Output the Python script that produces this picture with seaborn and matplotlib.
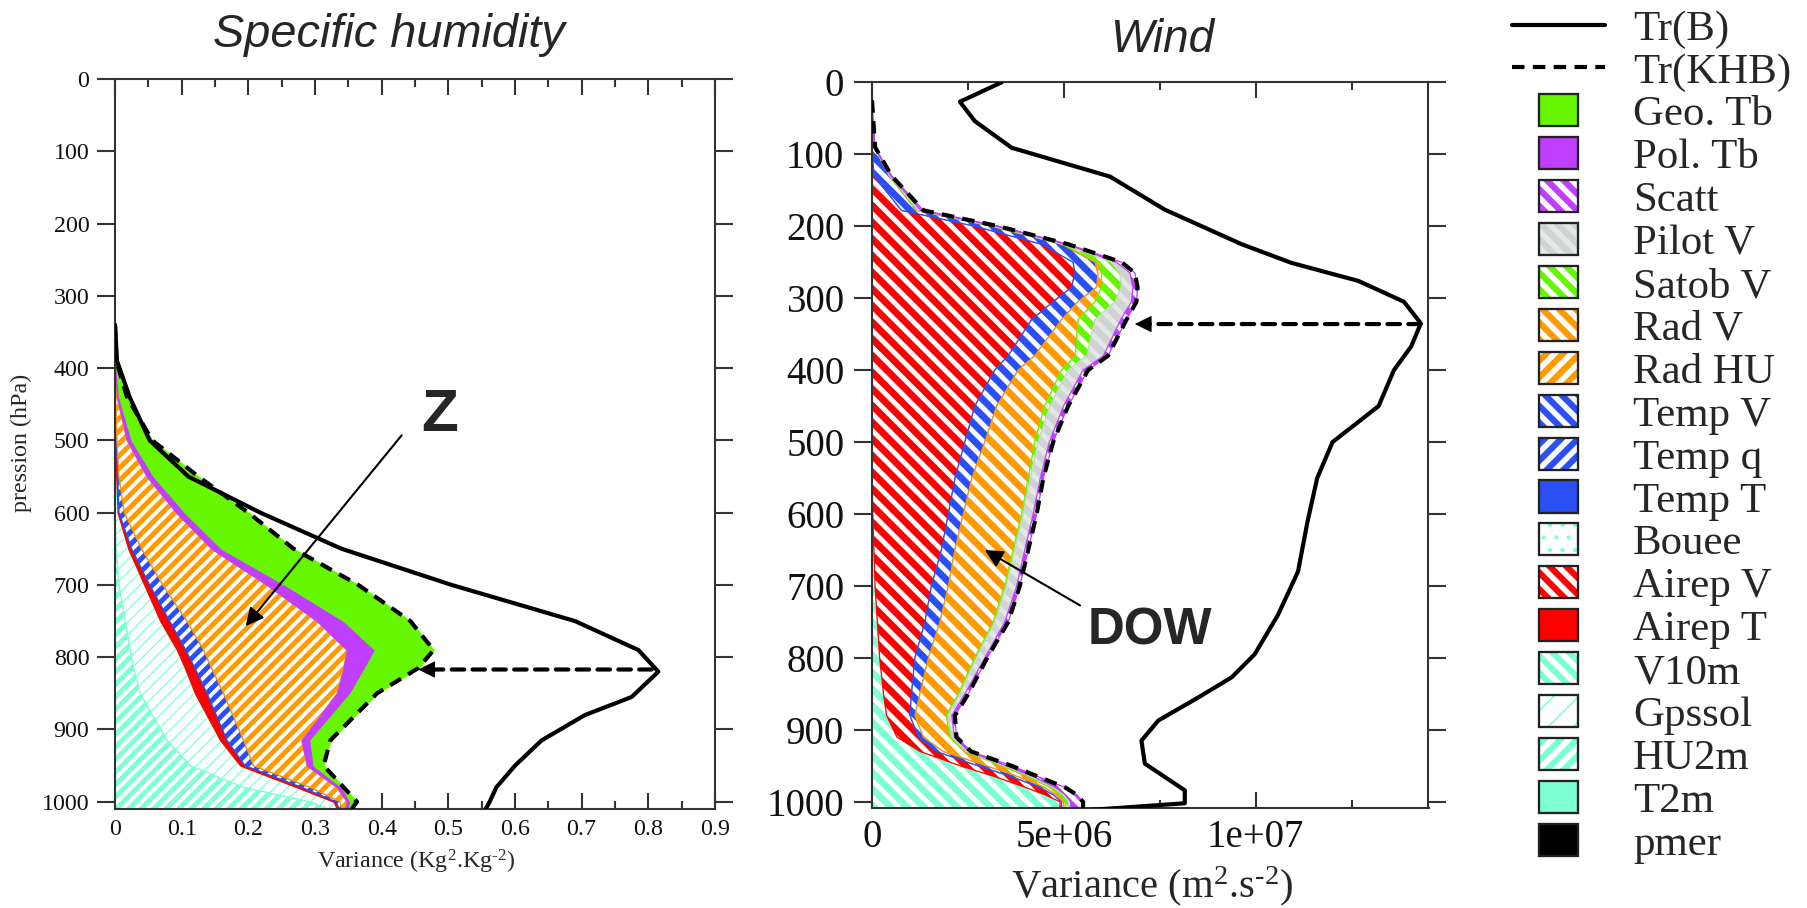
import numpy as np
import matplotlib
matplotlib.use("Agg")
import matplotlib.pyplot as plt
import seaborn as sns
from matplotlib.patches import Patch, Rectangle
from matplotlib.lines import Line2D
from matplotlib.legend_handler import HandlerBase
from matplotlib.ticker import FixedLocator, FixedFormatter, MultipleLocator, NullLocator

# ---------------- Specific humidity panel (variance, Kg2.Kg-2) ----------------
q_levels = [340, 390, 440, 500, 550, 600, 650, 700, 750, 790, 815, 850, 915, 950, 980, 1000, 1010]
q_hu2m   = [0, 0, 0, 0, 0, 0, 0.002, 0.006, 0.016, 0.023, 0.028, 0.038, 0.078, 0.113, 0.193, 0.293, 0.320]
q_gpssol = [0, 0, 0, 0.001, 0.002, 0.004, 0.018, 0.038, 0.052, 0.070, 0.077, 0.082, 0.080, 0.075, 0.080, 0.035, 0.013]
q_airept = [0, 0, 0, 0.001, 0.002, 0.002, 0.005, 0.008, 0.014, 0.013, 0.015, 0.018, 0.010, 0.007, 0.007, 0.004, 0.003]
q_tempq  = [0, 0, 0.001, 0.001, 0.002, 0.008, 0.015, 0.020, 0.026, 0.027, 0.025, 0.025, 0.025, 0.013, 0.013, 0.006, 0.004]
q_radhu  = [0, 0, 0.002, 0.015, 0.042, 0.078, 0.105, 0.156, 0.195, 0.215, 0.198, 0.170, 0.087, 0.080, 0.040, 0.010, 0.005]
q_poltb  = [0, 0.001, 0.003, 0.007, 0.010, 0.013, 0.015, 0.027, 0.040, 0.042, 0.032, 0.020, 0.013, 0.010, 0.007, 0.005, 0.005]
q_geotb  = [0, 0.001, 0.012, 0.031, 0.067, 0.095, 0.108, 0.110, 0.100, 0.088, 0.080, 0.040, 0.030, 0.015, 0.003, 0.010, 0.005]

q_trb_levels = [340, 390, 440, 500, 550, 600, 650, 700, 750, 790, 820, 855, 880, 915, 950, 980, 1000, 1010]
q_trb        = [0, 0.003, 0.022, 0.052, 0.110, 0.218, 0.340, 0.505, 0.690, 0.785, 0.815, 0.775, 0.705, 0.640, 0.600, 0.572, 0.562, 0.556]

# ---------------- Wind panel (variance, units of 1e6 m2.s-2) ----------------
W_UNIT = 1e6
w_levels = [25, 50, 90, 130, 178, 200, 225, 250, 265, 285, 305, 330, 380, 400, 450, 500,
            550, 600, 650, 700, 750, 800, 850, 880, 910, 930, 950, 965, 980, 990, 1000, 1010]
w_v10m   = [0, 0, 0, 0, 0, 0, 0, 0, 0, 0, 0, 0, 0, 0, 0, 0,
            0.005, 0.02, 0.05, 0.08, 0.14, 0.2, 0.3, 0.38, 0.65, 1.25, 2.3, 3.2, 4.0, 4.5, 4.9, 4.9]
w_airepv = [0, 0, 0, 0.05, 0.77, 2.68, 4.42, 5.24, 5.29, 5.2, 4.72, 4.16, 3.55, 3.2, 2.68, 2.42,
            2.16, 1.97, 1.76, 1.47, 1.24, 0.92, 0.73, 0.61, 0.56, 0.43, 0.47, 0.44, 0.38, 0.22, 0.04, 0.04]
w_tempv  = [0, 0, 0.06, 0.40, 0.39, 0.44, 0.52, 0.57, 0.60, 0.65, 0.65, 0.78, 0.69, 0.61, 0.57, 0.52,
            0.44, 0.39, 0.35, 0.44, 0.39, 0.35, 0.22, 0.13, 0.13, 0.18, 0.22, 0.17, 0.12, 0.08, 0.06, 0.06]
w_radv   = [0, 0, 0, 0.01, 0.02, 0.03, 0.03, 0.09, 0.09, 0.13, 0.44, 0.43, 1.06, 1.13, 1.25, 1.30,
            1.47, 1.52, 1.52, 1.47, 1.39, 1.21, 1.00, 0.82, 0.69, 0.56, 0.39, 0.26, 0.14, 0.10, 0.05, 0.05]
w_satobv = [0, 0, 0, 0.01, 0.03, 0.03, 0.03, 0.34, 0.48, 0.52, 0.52, 0.44, 0.30, 0.17, 0.14, 0.09,
            0.05, 0.04, 0.04, 0.04, 0.04, 0.04, 0.04, 0.04, 0.05, 0.04, 0.08, 0.09, 0.09, 0.08, 0.08, 0.08]
w_pilotv = [0, 0, 0, 0.02, 0.06, 0.06, 0.06, 0.13, 0.26, 0.30, 0.43, 0.67, 0.43, 0.39, 0.35, 0.29,
            0.26, 0.26, 0.26, 0.27, 0.26, 0.22, 0.13, 0.10, 0.07, 0.06, 0.04, 0.04, 0.05, 0.05, 0.05, 0.05]
w_scatt  = [0, 0.03, 0.02, 0.02, 0.07, 0.05, 0.05, 0.13, 0.13, 0.12, 0.13, 0.15, 0.12, 0.13, 0.12, 0.10,
            0.08, 0.09, 0.09, 0.08, 0.09, 0.06, 0.09, 0.08, 0.05, 0.06, 0.14, 0.13, 0.25, 0.30, 0.32, 0.32]

w_trb_levels = [0, 27, 54, 91, 131, 177, 225, 251, 276, 305, 335, 367, 400, 450, 500, 550, 610, 680,
                740, 795, 827, 855, 887, 915, 947, 984, 1002, 1012]
w_trb        = [3.38, 2.29, 2.68, 3.64, 6.20, 7.63, 9.63, 10.93, 12.67, 13.86, 14.30, 14.05, 13.60, 13.20,
                12.00, 11.60, 11.35, 11.10, 10.58, 9.97, 9.37, 8.50, 7.46, 7.02, 7.11, 8.15, 8.15, 5.50]

# ---------------- tick labels / legend ----------------
q_yticks = [0, 100, 200, 300, 400, 500, 600, 700, 800, 900, 1000]
q_xticks = [0, 0.1, 0.2, 0.3, 0.4, 0.5, 0.6, 0.7, 0.8, 0.9]
q_xticklabels = ["0", "0.1", "0.2", "0.3", "0.4", "0.5", "0.6", "0.7", "0.8", "0.9"]
w_xticks = [0, 5e6, 1e7]
w_xticklabels = ["0", "5e+06", "1e+07"]
legend_names = ["Geo. Tb", "Pol. Tb", "Scatt", "Pilot V", "Satob V", "Rad V", "Rad HU", "Temp V",
                "Temp q", "Temp T", "Bouee", "Airep V", "Airep T", "V10m", "Gpssol", "HU2m", "T2m", "pmer"]

# styles: facecolor, hatch colour, hatch symbol, thin hatch?
GREEN, PURPLE, ORANGE, BLUE, RED, AQUA = "#66F700", "#BF3EFF", "#FF9A00", "#2A4FF5", "#FF0000", "#7FFFD4"
styles = {
    "Geo. Tb": (GREEN, GREEN, None, False),
    "Pol. Tb": (PURPLE, PURPLE, None, False),
    "Scatt": ("white", PURPLE, "\\", False),
    "Pilot V": ("#E3E7E6", "#CFD4D3", "\\", False),
    "Satob V": ("white", GREEN, "\\", False),
    "Rad V": ("white", ORANGE, "\\", False),
    "Rad HU": ("white", ORANGE, "/", False),
    "Temp V": ("white", BLUE, "\\", False),
    "Temp q": ("white", BLUE, "/", False),
    "Temp T": (BLUE, BLUE, None, False),
    "Bouee": ("white", AQUA, ".", True),
    "Airep V": ("white", RED, "\\", False),
    "Airep T": (RED, RED, None, False),
    "V10m": ("white", AQUA, "\\", False),
    "Gpssol": ("white", AQUA, "/", True),
    "HU2m": ("white", AQUA, "/", False),
    "T2m": (AQUA, AQUA, None, False),
    "pmer": ("black", "black", None, False),
}

DPI = 150
sns.set_theme(style="ticks")
plt.rcParams["font.family"] = ["Liberation Serif", "DejaVu Serif"]
plt.rcParams["mathtext.fontset"] = "custom"
plt.rcParams["mathtext.rm"] = "Liberation Serif"
plt.rcParams["mathtext.it"] = "Liberation Serif:italic"
plt.rcParams["axes.edgecolor"] = "#333333"
plt.rcParams["axes.linewidth"] = 1.0

W, H = 1807, 908
fig = plt.figure(figsize=(W / DPI, H / DPI), dpi=DPI)
fig.patch.set_facecolor("white")
axq = fig.add_axes([115 / W, 1 - 809 / H, 600 / W, 730 / H])
axw = fig.add_axes([872 / W, 1 - 808.3 / H, 556.5 / W, 726 / H])


def stack(ax, levels, names, series, reps, hlw, scale=1.0):
    levels = np.asarray(levels, float)
    base = np.zeros(len(levels))
    for name, vals in zip(names, series):
        top = base + np.asarray(vals, float) * scale
        fc, hc, sym, thin = styles[name]
        hatch = sym * reps if sym else None
        with plt.rc_context({"hatch.linewidth": 0.6 if thin else hlw}):
            ax.fill_betweenx(levels, base, top, facecolor=fc, edgecolor=hc, hatch=hatch,
                             linewidth=0.6, zorder=2)
        base = top
    return levels, base


# ---- humidity panel
lv, tot = stack(axq, q_levels, ["HU2m", "Gpssol", "Airep T", "Temp q", "Rad HU", "Pol. Tb", "Geo. Tb"],
                [q_hu2m, q_gpssol, q_airept, q_tempq, q_radhu, q_poltb, q_geotb], reps=4, hlw=2.4)
sns.lineplot(x=tot, y=lv, sort=False, estimator=None, color="black", lw=2.0,
             linestyle=(0, (3, 2)), ax=axq, zorder=4)
sns.lineplot(x=q_trb, y=q_trb_levels, sort=False, estimator=None, color="black", lw=2.0, ax=axq, zorder=4)

# ---- wind panel
lv, tot = stack(axw, w_levels, ["V10m", "Airep V", "Temp V", "Rad V", "Satob V", "Pilot V", "Scatt"],
                [w_v10m, w_airepv, w_tempv, w_radv, w_satobv, w_pilotv, w_scatt], reps=3, hlw=3.3,
                scale=W_UNIT)
sns.lineplot(x=tot, y=lv, sort=False, estimator=None, color="black", lw=2.0,
             linestyle=(0, (3, 2)), ax=axw, zorder=4)
sns.lineplot(x=np.asarray(w_trb) * W_UNIT, y=w_trb_levels, sort=False, estimator=None,
             color="black", lw=2.0, ax=axw, zorder=4)

# ---- axes formatting
axq.set_xlim(0, 0.9)
axq.set_ylim(1010, 0)
axw.set_xlim(0, 1.45e7)
axw.set_ylim(1009, 0)

for ax, fs, ypad in ((axq, 11.5, 3.8), (axw, 18.7, 4.8)):
    ax.set_xlabel("")
    ax.set_ylabel("")
    ax.yaxis.set_major_locator(FixedLocator(q_yticks))
    ax.yaxis.set_major_formatter(FixedFormatter([str(t) for t in q_yticks]))
    ax.yaxis.set_minor_locator(NullLocator())
    ax.tick_params(axis="y", which="major", direction="out", length=8.5, width=1.0,
                   left=True, right=True, labelleft=True, labelright=False,
                   color="#333333", labelsize=fs, pad=ypad, labelcolor="#111111")
    ax.tick_params(axis="x", which="major", direction="in", length=7.7, width=1.0,
                   top=True, bottom=True, color="#333333", labelsize=fs, pad=5.0, labelcolor="#111111")
    ax.tick_params(axis="x", which="minor", direction="in", length=3.8, width=1.0,
                   top=True, bottom=True, color="#333333")
    for s in ax.spines.values():
        s.set_visible(True)
        s.set_linewidth(1.0)
        s.set_color("#333333")
    ax.set_facecolor("white")
    ax.grid(False)

axq.xaxis.set_major_locator(FixedLocator(q_xticks))
axq.xaxis.set_major_formatter(FixedFormatter(q_xticklabels))
axq.xaxis.set_minor_locator(MultipleLocator(0.05))
axw.xaxis.set_major_locator(FixedLocator(w_xticks))
axw.xaxis.set_major_formatter(FixedFormatter(w_xticklabels))
axw.xaxis.set_minor_locator(MultipleLocator(2.5e6))

# ---- titles and axis labels
sans = ["Liberation Sans", "DejaVu Sans"]
fig.text(388.5 / W, 1 - 47 / H, "Specific humidity", family=sans, style="italic",
         fontsize=22.5, ha="center", va="baseline")
fig.text(1162 / W, 1 - 52 / H, "Wind", family=sans, style="italic",
         fontsize=22, ha="center", va="baseline")
fig.text(21 / W, 1 - 443 / H, "pression (hPa)", rotation=90, fontsize=11.5, ha="center", va="center")
fig.text(416 / W, 1 - 862 / H, r"Variance (Kg$^{2}$.Kg$^{\text{-2}}$)", fontsize=11.5,
         ha="center", va="center")
fig.text(1152 / W, 1 - 886 / H, r"Variance (m$^{2}$.s$^{\text{-2}}$)", fontsize=19.5,
         ha="center", va="center")

# ---- annotations
arrow_solid = dict(arrowstyle="-|>", color="black", lw=1.0, mutation_scale=18, shrinkA=0, shrinkB=0)
axq.annotate("", xy=(0.196, 757), xytext=(0.430, 493), arrowprops=arrow_solid, zorder=6)
axq.text(0.4875, 466, "Z", family=sans, weight="bold", fontsize=29, ha="center", va="center", zorder=6)
axw.annotate("", xy=(2.94e6, 650), xytext=(5.42e6, 727), arrowprops=arrow_solid, zorder=6)
axw.text(7.25e6, 763, "DOW", family=sans, weight="bold", fontsize=24.5, ha="center", va="center", zorder=6)


def dashed_arrow(ax, x_from, x_to, y):
    ax.annotate("", xy=(x_to, y), xytext=(x_from, y),
                arrowprops=dict(arrowstyle="-", color="black", lw=2.0, linestyle=(0, (3, 2)),
                                shrinkA=0, shrinkB=7), zorder=6)
    ax.annotate("", xy=(x_to, y), xytext=(7.2, 0), textcoords="offset points",
                arrowprops=dict(arrowstyle="-|>", color="black", lw=0.5, mutation_scale=18,
                                shrinkA=0, shrinkB=0), zorder=6)


dashed_arrow(axq, 0.805, 0.455, 817)
dashed_arrow(axw, 14.3e6, 6.85e6, 336)


# ---- legend
class BoxHandler(HandlerBase):
    def create_artists(self, legend, orig_handle, xdescent, ydescent, width, height, fontsize, trans):
        w, h = 18.7, 15.4
        cx = -xdescent + width / 2.0
        cy = -ydescent + height / 2.0
        fc = orig_handle.get_facecolor()
        hc = orig_handle.get_edgecolor()
        hatch = orig_handle.get_hatch()
        thin = hatch is not None and (hatch == "//" or hatch.startswith("."))
        with plt.rc_context({"hatch.linewidth": 0.8 if thin else 3.0}):
            fill = Rectangle((cx - w / 2, cy - h / 2), w, h, facecolor=fc, edgecolor=hc,
                             hatch=hatch, linewidth=0, transform=trans)
        border = Rectangle((cx - w / 2, cy - h / 2), w, h, facecolor="none",
                           edgecolor="#222222", linewidth=1.1, transform=trans)
        return [fill, border]


handles = [Line2D([], [], color="black", lw=2.0),
           Line2D([], [], color="black", lw=2.0, linestyle=(0, (3, 2)))]
labels = ["Tr(B)", "Tr(KHB)"]
for name in legend_names:
    fc, hc, sym, thin = styles[name]
    if sym is None:
        hatch = None
    elif sym == ".":
        hatch = sym * 2
    elif thin:
        hatch = sym * 2
    else:
        hatch = sym * 3
    handles.append(Patch(facecolor=fc, edgecolor=hc, hatch=hatch))
    labels.append(name)

fig.legend(handles=handles, labels=labels, loc="upper left",
           bbox_to_anchor=(1512 / W, 1 - 9.5 / H), bbox_transform=fig.transFigure,
           frameon=False, fontsize=20.6, handlelength=2.17, handletextpad=0.65,
           borderpad=0, borderaxespad=0, labelspacing=0.09, handleheight=0.7,
           handler_map={Patch: BoxHandler()})

fig.savefig("out.png", dpi=DPI, facecolor="white")
